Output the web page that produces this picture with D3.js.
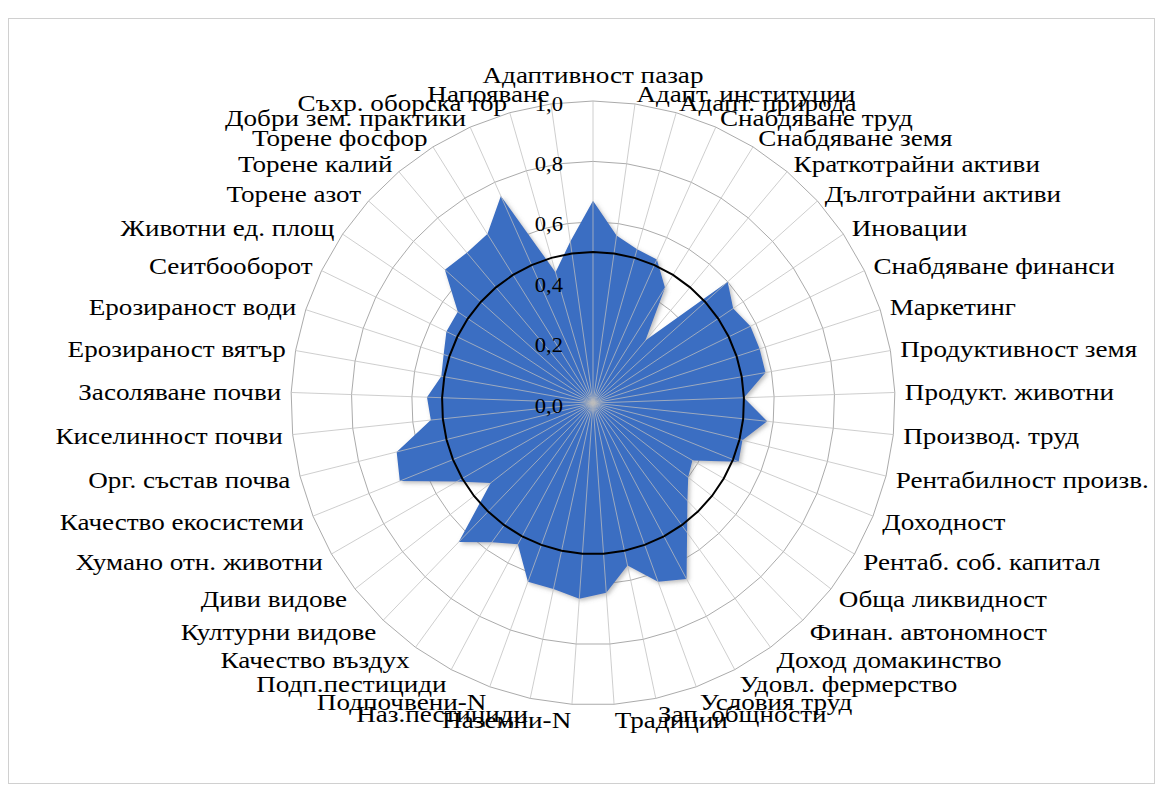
<!doctype html>
<html lang="bg">
  <head>
    <meta charset="UTF-8" />
    <script src="https://unpkg.com/d3@7.9.0/dist/d3.min.js"></script>
    <style>
      body {
        margin: 0;
        background: #fff;
        overflow: hidden;
      }
      text {
        font-family: 'Liberation Serif', 'Times New Roman', serif;
        fill: #000;
      }
    </style>
  </head>
  <body>
    <svg width="1163" height="792"></svg>
    <script>
      const categories = [
        'Адаптивност пазар', 'Адапт. институции', 'Адапт. природа', 'Снабдяване труд',
        'Снабдяване земя', 'Краткотрайни активи', 'Дълготрайни активи', 'Иновации',
        'Снабдяване финанси', 'Маркетинг', 'Продуктивност земя', 'Продукт. животни',
        'Производ. труд', 'Рентабилност произв.', 'Доходност', 'Рентаб. соб. капитал',
        'Обща ликвидност', 'Финан. автономност', 'Доход  домакинство', 'Удовл. фермерство',
        'Условия труд', 'Зап. общности', 'Традиции', 'Наземни-N', 'Наз.пестициди',
        'Подпочвени-N', 'Подп.пестициди', 'Качество въздух', 'Културни видове',
        'Диви видове', 'Хумано отн. животни', 'Качество екосистеми', 'Орг. състав почва',
        'Киселинност почви', 'Засоляване почви', 'Ерозираност вятър', 'Ерозираност води',
        'Сеитбооборот', 'Животни ед. площ', 'Торене азот', 'Торене калий', 'Торене фосфор',
        'Добри зем. практики', 'Съхр. оборска тор', 'Напояване'
      ];
      // оценка
      const values = [
        0.67, 0.56, 0.53, 0.52, 0.45, 0.27, 0.60, 0.56, 0.58, 0.58,
        0.58, 0.50, 0.58, 0.51, 0.52, 0.38, 0.40, 0.45, 0.53, 0.66,
        0.63, 0.55, 0.63, 0.65, 0.63, 0.63, 0.53, 0.57, 0.64, 0.43,
        0.52, 0.69, 0.67, 0.54, 0.55, 0.51, 0.52, 0.54, 0.54, 0.66,
        0.65, 0.66, 0.75, 0.45, 0.54
      ];
      // праг
      const threshold = [
        0.5, 0.5, 0.5, 0.5, 0.5, 0.5, 0.5, 0.5, 0.5, 0.5,
        0.5, 0.5, 0.5, 0.5, 0.5, 0.5, 0.5, 0.5, 0.5, 0.5,
        0.5, 0.5, 0.5, 0.5, 0.5, 0.5, 0.5, 0.5, 0.5, 0.5,
        0.5, 0.5, 0.5, 0.5, 0.5, 0.5, 0.5, 0.5, 0.5, 0.5,
        0.5, 0.5, 0.5, 0.5, 0.5
      ];
      const ticks = [0, 0.2, 0.4, 0.6, 0.8, 1.0];
      const tickLabels = ['0,0', '0,2', '0,4', '0,6', '0,8', '1,0'];

      const cx = 593,
        cy = 403,
        radius = 302,
        labelRadius = 312,
        stretch = 1.13;

      const svg = d3.select('svg');

      svg
        .append('rect')
        .attr('x', 8.5)
        .attr('y', 18.5)
        .attr('width', 1146)
        .attr('height', 765)
        .attr('fill', 'none')
        .attr('stroke', '#d0d0d0');

      const defs = svg.append('defs');
      const shadow = defs
        .append('filter')
        .attr('id', 'soft')
        .attr('x', '-10%')
        .attr('y', '-10%')
        .attr('width', '120%')
        .attr('height', '120%');
      shadow
        .append('feDropShadow')
        .attr('dx', 2)
        .attr('dy', 2)
        .attr('stdDeviation', 2)
        .attr('flood-color', '#777')
        .attr('flood-opacity', 0.5);

      const r = d3.scaleLinear().domain([0, 1]).range([0, radius]);
      const angle = d3
        .scaleLinear()
        .domain([0, categories.length])
        .range([0, 2 * Math.PI]);

      const g = svg
        .append('g')
        .attr('transform', `translate(${cx},${cy})`);

      const radar = d3
        .lineRadial()
        .angle((d, i) => angle(i))
        .radius((d) => r(d))
        .curve(d3.curveLinearClosed);

      // кръгове
      ticks.slice(1).forEach((t) => {
        g.append('path')
          .attr('d', radar(categories.map(() => t)))
          .attr('fill', 'none')
          .attr('stroke', '#ababab')
          .attr('stroke-width', 1);
      });

      // серия
      g.append('path')
        .datum(values)
        .attr('d', radar)
        .attr('fill', '#3a6ec2')
        .attr('filter', 'url(#soft)');

      // лъчи
      g.selectAll('.spoke')
        .data(categories)
        .enter()
        .append('line')
        .attr('class', 'spoke')
        .attr('x1', 0)
        .attr('y1', 0)
        .attr('x2', (d, i) => r(1) * Math.sin(angle(i)))
        .attr('y2', (d, i) => -r(1) * Math.cos(angle(i)))
        .attr('stroke', '#bdbdbd')
        .attr('stroke-opacity', 0.75)
        .attr('stroke-width', 1);

      g.append('path')
        .datum(threshold)
        .attr('d', radar)
        .attr('fill', 'none')
        .attr('stroke', '#000')
        .attr('stroke-width', 2);

      // стойности по оста
      g.selectAll('.tick-label')
        .data(ticks)
        .enter()
        .append('text')
        .attr('class', 'tick-label')
        .attr(
          'transform',
          (d) => `translate(-30,${-r(d) + 3}) scale(${stretch},1)`,
        )
        .attr('text-anchor', 'end')
        .attr('dominant-baseline', 'central')
        .style('font-size', '20px')
        .text((d, i) => tickLabels[i]);

      // категории
      g.selectAll('.cat')
        .data(categories)
        .enter()
        .append('text')
        .attr('class', 'cat')
        .attr('transform', (d, i) => {
          const a = angle(i);
          const c = Math.cos(a);
          const x = labelRadius * Math.sin(a);
          let y = -labelRadius * c;
          if (i === 0) y -= 16;
          else if (c < 0) y -= c * 6;
          return `translate(${x},${y}) scale(${stretch},1)`;
        })
        .attr('text-anchor', (d, i) => {
          const s = Math.sin(angle(i));
          if (Math.abs(s) < 1e-6) return 'middle';
          return s > 0 ? 'start' : 'end';
        })
        .attr('dominant-baseline', 'central')
        .style('font-size', '24px')
        .text((d) => d);
    </script>
  </body>
</html>
